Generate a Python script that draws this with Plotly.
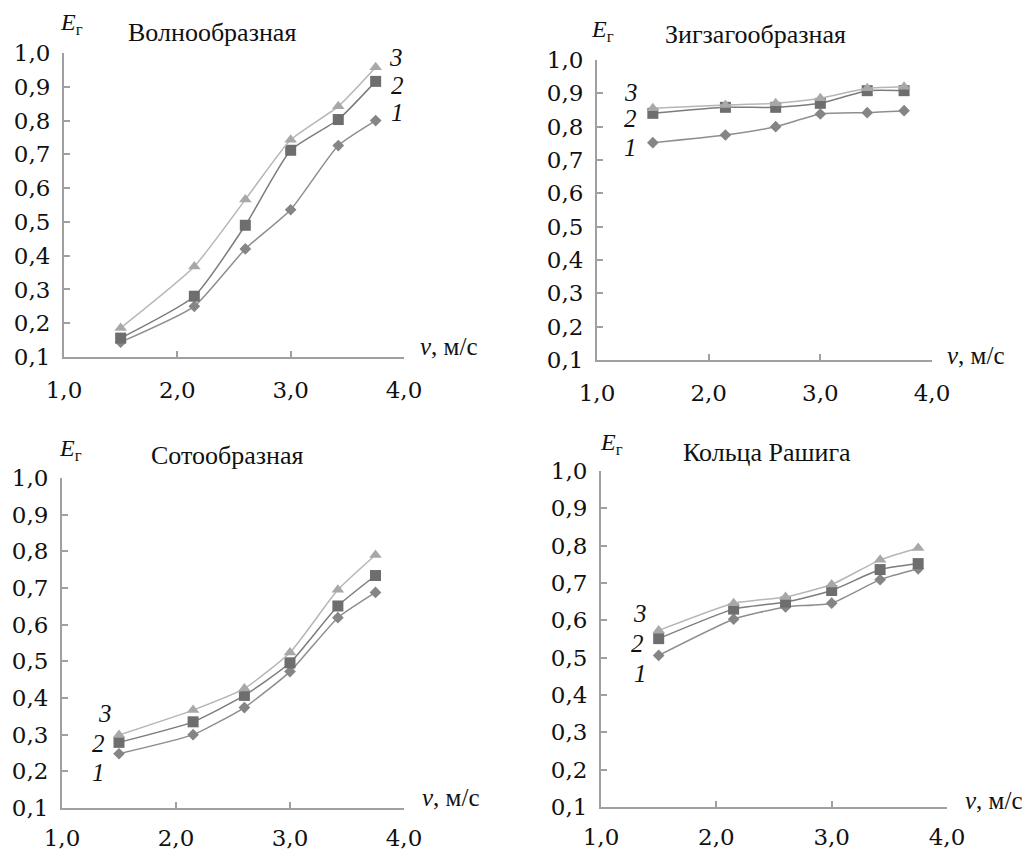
import plotly.graph_objects as go

# ---- data ----
x_v = [1.5, 2.15, 2.6, 3.0, 3.42, 3.75]

wave1 = [0.144, 0.25, 0.42, 0.536, 0.726, 0.80]
wave2 = [0.156, 0.28, 0.49, 0.712, 0.803, 0.916]
wave3 = [0.186, 0.368, 0.566, 0.743, 0.842, 0.958]

zig1 = [0.752, 0.775, 0.80, 0.838, 0.842, 0.848]
zig2 = [0.84, 0.858, 0.858, 0.87, 0.908, 0.908]
zig3 = [0.855, 0.865, 0.87, 0.885, 0.915, 0.92]

comb1 = [0.248, 0.30, 0.374, 0.472, 0.619, 0.688]
comb2 = [0.279, 0.335, 0.407, 0.496, 0.651, 0.734]
comb3 = [0.299, 0.367, 0.426, 0.524, 0.695, 0.79]

rasch1 = [0.506, 0.603, 0.636, 0.646, 0.709, 0.738]
rasch2 = [0.551, 0.63, 0.649, 0.68, 0.736, 0.752]
rasch3 = [0.573, 0.646, 0.6625, 0.696, 0.762, 0.794]

panel_titles = ["Волнообразная", "Зигзагообразная", "Сотообразная", "Кольца Рашига"]
series_names = ["1", "2", "3"]

x_tickvals = [1.0, 2.0, 3.0, 4.0]
x_ticktext = ["1,0", "2,0", "3,0", "4,0"]
y_tickvals = [0.1, 0.2, 0.3, 0.4, 0.5, 0.6, 0.7, 0.8, 0.9, 1.0]
y_ticktext = ["0,1", "0,2", "0,3", "0,4", "0,5", "0,6", "0,7", "0,8", "0,9", "1,0"]

panels = [
    [wave1, wave2, wave3],
    [zig1, zig2, zig3],
    [comb1, comb2, comb3],
    [rasch1, rasch2, rasch3],
]

# ---- layout geometry (pixels) ----
W, H = 1027, 852
FONT = "Times New Roman"
TICKFONT = "DejaVu Serif"

# plot boxes: (left, right, top, bottom) in px
boxes = [
    (64, 404, 53, 357),
    (597, 932, 60, 360),
    (62, 404, 478, 808),
    (601, 947, 471, 807),
]
x_standoff = [11, 11, 8, 8]
title_pos = [(212, 33), (755, 35), (227, 455), (767, 452)]
e_pos = [(71, 24), (602, 31), (70, 450), (611, 444)]
v_pos = [(418, 347), (945, 355), (420, 797), (963, 800)]
lab_pos = [
    [(397, 113), (397, 85), (396, 57)],
    [(630, 147), (630, 118), (631, 92)],
    [(98, 772), (98, 743), (105, 713)],
    [(640, 673), (637, 643), (640, 613)],
]

styles = [
    dict(line_color="#8e8e8e", marker=dict(symbol="diamond", size=9, color="#858585")),
    dict(line_color="#7c7c7c", marker=dict(symbol="square", size=11, color="#6e6e6e")),
    dict(line_color="#b6b6b6", marker=dict(symbol="triangle-up", size=11, color="#a8a8a8")),
]


def px_x(p):
    return p / W


def px_y(p):
    return 1 - p / H


fig = go.Figure()
annotations = []

for i, (series, box) in enumerate(zip(panels, boxes)):
    n = "" if i == 0 else str(i + 1)
    xa, ya = "x" + n, "y" + n
    for k, ys in enumerate(series):
        st = styles[k]
        fig.add_trace(go.Scatter(
            x=x_v, y=ys, xaxis=xa, yaxis=ya, mode="lines+markers",
            name=series_names[k], showlegend=False,
            line=dict(color=st["line_color"], width=1.5, shape="spline", smoothing=0.5),
            marker=st["marker"], cliponaxis=False,
        ))
    l, r, t, b = box
    axis_common = dict(
        showgrid=False, zeroline=False, showline=True, linecolor="#a0a0a0",
        linewidth=2, ticks="inside", ticklen=6, tickwidth=2, tickcolor="#a0a0a0",
        tickfont=dict(family=TICKFONT, size=23, color="#111"), automargin=False,
    )
    fig.layout["xaxis" + n] = dict(
        domain=[px_x(l), px_x(r)], anchor=ya, range=[1.0, 4.0],
        tickvals=x_tickvals, ticktext=x_ticktext, ticklabelstandoff=x_standoff[i],
        **axis_common,
    )
    fig.layout["yaxis" + n] = dict(
        domain=[px_y(b), px_y(t)], anchor=xa, range=[0.1, 1.0],
        tickvals=y_tickvals, ticktext=y_ticktext, ticklabelstandoff=7,
        **axis_common,
    )
    # panel title
    tx, ty = title_pos[i]
    annotations.append(dict(
        text=panel_titles[i], x=px_x(tx), y=px_y(ty), xref="paper", yref="paper",
        xanchor="center", yanchor="middle", showarrow=False,
        font=dict(family=FONT, size=26, color="#111"),
    ))
    # E_г label
    ex, ey = e_pos[i]
    annotations.append(dict(
        text="<i>E</i><sub>г</sub>", x=px_x(ex), y=px_y(ey), xref="paper", yref="paper",
        xanchor="center", yanchor="middle", showarrow=False,
        font=dict(family=FONT, size=24, color="#111"),
    ))
    # v, м/с label
    vx, vy = v_pos[i]
    annotations.append(dict(
        text="<i>v</i>, м/с", x=px_x(vx), y=px_y(vy), xref="paper", yref="paper",
        xanchor="left", yanchor="middle", showarrow=False,
        font=dict(family=FONT, size=25, color="#111"),
    ))
    # series labels
    for k in range(3):
        sx, sy = lab_pos[i][k]
        annotations.append(dict(
            text="<i>" + series_names[k] + "</i>", x=px_x(sx), y=px_y(sy),
            xref="paper", yref="paper", xanchor="center", yanchor="middle",
            showarrow=False, font=dict(family=FONT, size=25, color="#111"),
        ))

fig.update_layout(
    width=W, height=H, margin=dict(l=0, r=0, t=0, b=0, autoexpand=False),
    paper_bgcolor="white", plot_bgcolor="white",
    annotations=annotations, showlegend=False,
)

fig.write_html("out.html", config={"displayModeBar": False},
               post_script="document.body.style.margin='0px';")
